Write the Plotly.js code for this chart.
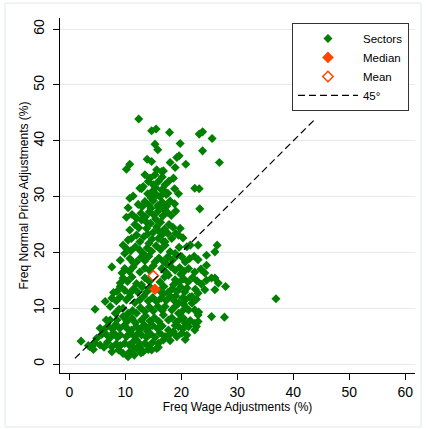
<!DOCTYPE html>
<html>
<head>
<meta charset="utf-8">
<script src="https://cdn.plot.ly/plotly-3.0.1.min.js"></script>
<style>html,body{margin:0;padding:0;background:#fff;}#chart{width:426px;height:429px;}</style>
</head>
<body>
<div id="chart"></div>
<script>
// Sector points: [wage frequency %, normal price frequency %]
const sectorPoints = [
  [7.6,2.2],[8.8,2.5],[9.6,1.9],[10.5,1.3],[10.8,2.2],[11.6,1.6],[12.0,2.8],[12.8,2.0],[13.2,2.2],[14.1,2.6],[14.7,2.5],[15.6,2.8],[15.9,3.0],
  [2.1,4.1],[3.4,3.3],[3.7,3.1],[4.3,2.6],[4.6,3.7],[5.5,3.4],[6.2,3.0],[6.8,3.9],[7.6,3.1],[8.4,3.6],[9.1,3.3],[9.9,3.7],[10.7,3.4],[11.4,4.0],[12.0,4.3],[12.7,3.5],[13.5,3.7],[14.2,3.2],[14.9,3.9],[15.9,3.7],[16.8,4.3],[18.0,4.2],
  [4.9,4.6],[5.8,5.3],[6.7,5.2],[7.3,4.7],[7.9,5.6],[8.6,4.8],[9.1,5.2],[10.2,4.9],[10.9,5.5],[11.7,4.9],[12.4,5.6],[12.9,5.2],[13.8,4.8],[14.5,5.4],[15.3,4.8],[16.2,5.5],[17.1,4.9],[18.0,5.4],[19.2,4.9],[20.1,5.5],[20.7,4.4],[21.0,5.2],
  [5.5,6.4],[6.1,6.1],[6.9,6.8],[7.7,6.3],[8.3,7.1],[9.0,6.4],[9.8,6.9],[10.5,6.2],[11.1,6.1],[12.0,6.7],[12.7,6.3],[13.4,7.0],[14.2,6.5],[14.9,6.9],[15.8,6.3],[16.6,6.8],[17.7,6.1],[18.6,5.8],[18.9,6.9],[19.5,6.7],[20.3,6.3],[21.3,6.7],[22.4,6.1],[22.7,6.7],
  [6.6,7.9],[7.3,7.9],[8.5,7.9],[9.6,8.5],[10.3,7.6],[11.2,8.2],[12.9,7.9],[13.6,8.6],[14.4,7.7],[15.2,8.3],[16.0,7.6],[16.8,8.8],[17.7,7.9],[18.3,8.3],[19.1,7.5],[19.9,8.1],[20.4,8.2],[20.7,7.3],[21.6,7.8],[22.4,7.3],[23.0,7.6],[23.0,8.8],[25.4,8.5],[27.7,8.4],
  [4.6,9.8],[7.3,10.3],[8.2,9.1],[8.9,9.8],[9.6,10.0],[10.5,9.1],[11.3,9.6],[12.0,9.1],[12.7,10.1],[13.5,9.4],[14.3,10.2],[15.0,9.5],[15.8,10.3],[16.6,9.6],[17.1,10.3],[18.3,9.7],[19.0,10.4],[19.5,9.1],[20.1,9.4],[20.9,10.0],[21.3,9.7],[22.4,9.7],[23.1,9.3],
  [6.4,11.2],[7.6,11.8],[8.4,11.3],[9.1,12.0],[10.2,11.5],[10.8,12.1],[11.7,11.0],[12.6,11.5],[13.3,12.2],[14.1,11.3],[14.9,11.9],[15.6,11.2],[16.4,11.8],[17.3,11.4],[18.1,12.1],[18.8,11.3],[19.5,10.9],[20.2,11.8],[20.7,11.5],[21.5,12.0],[21.9,10.9],[22.7,11.6],[36.9,11.7],
  [7.9,12.8],[8.5,13.0],[9.1,13.9],[9.9,13.2],[10.8,12.7],[11.5,13.5],[12.2,12.9],[13.0,13.8],[13.8,12.9],[14.6,13.6],[16.2,13.1],[16.9,13.9],[17.6,12.8],[18.4,13.5],[19.2,13.0],[19.9,13.8],[20.6,12.9],[21.9,12.1],[22.5,13.4],[23.0,12.7],[24.2,13.3],[26.0,13.3],[27.9,13.9],
  [9.1,14.5],[9.6,15.4],[10.4,14.8],[11.2,15.6],[12.0,14.4],[12.9,14.2],[13.5,15.4],[14.3,14.8],[16.2,14.7],[17.0,15.6],[17.7,15.9],[18.9,15.1],[19.6,14.6],[20.4,15.3],[21.2,14.7],[22.0,15.5],[22.8,14.9],[23.6,14.3],[24.5,15.0],[25.4,15.4],[26.6,14.5],[26.0,15.4],
  [7.6,17.4],[9.4,16.3],[9.9,17.1],[10.7,16.6],[11.4,17.4],[12.6,16.5],[13.5,17.2],[14.3,16.8],[15.0,17.6],[16.5,17.1],[17.3,16.4],[18.1,17.5],[18.9,16.8],[19.7,17.3],[20.5,16.6],[21.3,17.1],[22.4,16.5],[23.5,17.0],[24.2,16.3],[24.5,17.7],
  [9.1,18.6],[10.8,18.9],[11.4,18.2],[12.0,18.3],[12.8,19.1],[13.5,18.5],[14.2,19.3],[15.3,18.3],[16.0,19.0],[16.8,18.4],[17.6,19.2],[18.4,18.6],[19.2,19.4],[20.1,19.2],[20.7,18.3],[21.5,18.9],[22.3,19.3],[23.0,18.7],[24.5,19.5],
  [9.6,21.3],[9.9,19.8],[10.2,20.7],[11.0,20.3],[11.8,21.0],[12.6,20.4],[13.2,19.8],[13.9,20.8],[14.7,20.2],[15.5,21.2],[16.3,20.5],[17.1,21.3],[18.0,20.1],[18.9,19.8],[19.6,20.9],[21.0,21.0],[21.6,21.3],[23.0,21.3],[26.0,20.1],[26.4,21.3],
  [10.5,22.2],[11.1,22.5],[12.0,23.1],[12.6,21.9],[13.3,22.8],[14.0,23.3],[14.8,22.4],[15.9,22.5],[16.6,23.2],[17.1,21.9],[18.3,22.5],[19.0,23.4],[19.5,23.1],[20.3,22.6],
  [10.8,24.0],[11.7,25.0],[12.4,24.4],[12.9,25.8],[13.8,24.3],[14.5,25.2],[15.6,24.6],[16.3,25.4],[17.0,24.2],[17.8,25.0],[18.5,24.5],[19.8,24.3],
  [10.2,26.3],[11.2,26.8],[12.0,26.1],[12.8,27.0],[13.6,26.4],[14.3,27.3],[15.1,26.7],[15.9,27.4],[16.7,26.5],[17.5,27.2],[18.2,26.6],[19.0,27.4],
  [10.5,28.0],[12.3,28.6],[13.0,28.2],[13.5,29.1],[14.2,28.5],[15.0,29.3],[15.8,28.4],[16.6,29.0],[17.4,28.3],[18.0,29.2],[18.8,28.7],[23.3,27.8],
  [10.8,29.7],[11.4,30.1],[12.6,31.5],[12.9,31.4],[13.2,31.8],[14.0,30.5],[14.8,30.9],[15.6,30.3],[16.5,31.2],[17.3,30.4],[17.6,30.6],[18.8,31.4],[19.5,30.5],[22.4,31.5],[23.2,31.4],
  [13.5,33.9],[14.1,32.7],[14.4,33.3],[15.0,32.1],[15.3,33.9],[15.9,32.7],[16.6,33.5],[17.1,32.1],[17.8,32.8],[18.6,33.3],
  [10.2,34.9],[10.8,35.8],[15.6,34.8],[16.5,34.5],[16.8,34.6],[18.9,35.2],[18.0,36.1],[20.8,35.8],[26.8,36.1],[13.9,36.7],[14.7,36.3],
  [19.2,37.0],[19.6,37.3],[15.8,38.4],[15.3,39.4],[19.8,39.5],[23.8,38.2],[25.5,40.4],[23.2,41.2],[23.8,41.6],[17.9,41.5],[14.7,41.8],[15.5,42.1],[12.4,43.9],
  [14.6,29.8],[16.2,30.0],[15.4,31.6],[17.0,31.0],[16.0,28.0],[14.6,27.9],[15.4,26.0],[16.9,27.7],[13.8,25.4],[15.0,23.6],[16.0,23.8],[17.6,23.4],[14.2,21.6],[16.8,21.9],
  [18.6,14.2],[19.9,16.1],[21.0,13.6],[17.4,17.9],[19.0,12.2],[11.8,7.4],[12.6,3.0],[13.9,5.9],[10.0,8.2],[11.6,2.9],[16.8,12.6],[20.4,10.7]
];
const sectorWage = sectorPoints.map(p => p[0]);
const sectorPrice = sectorPoints.map(p => p[1]);
const medianWage = [15.3];
const medianPrice = [13.4];
const meanWage = [15.0];
const meanPrice = [15.8];
const diagX = [1, 44];
const diagY = [1, 44];
const tickVals = [0, 10, 20, 30, 40, 50, 60];
const tickText = ['0', '10', '20', '30', '40', '50', '60'];
const seriesNames = ['Sectors', 'Median', 'Mean', '45\u00B0'];

const green = '#008000';
const orange = '#ff4500';
const font = 'Liberation Sans, Arial, Helvetica, sans-serif';

const traces = [
  {x: sectorWage, y: sectorPrice, name: seriesNames[0], type: 'scatter', mode: 'markers',
   marker: {symbol: 'diamond', size: 7, color: green, line: {width: 0}}},
  {x: medianWage, y: medianPrice, name: seriesNames[1], type: 'scatter', mode: 'markers',
   marker: {symbol: 'diamond', size: 9, color: orange, line: {width: 0}}},
  {x: meanWage, y: meanPrice, name: seriesNames[2], type: 'scatter', mode: 'markers',
   marker: {symbol: 'diamond-open', size: 8, color: orange, line: {width: 1.5, color: orange}}},
  {x: diagX, y: diagY, name: seriesNames[3], type: 'scatter', mode: 'lines',
   line: {color: '#000', width: 1.2, dash: '7px,4px'}}
];

const layout = {
  width: 426, height: 429,
  margin: {l: 60, r: 11, t: 18, b: 56},
  paper_bgcolor: '#fff', plot_bgcolor: '#fff',
  font: {family: font, size: 12, color: '#000'},
  showlegend: true,
  legend: {x: 0.983, xanchor: 'right', y: 0.986, yanchor: 'top',
    bgcolor: '#fff', bordercolor: '#333', borderwidth: 1,
    font: {family: font, size: 11.5, color: '#000'}, itemwidth: 60, tracegroupgap: 0},
  xaxis: {range: [-1.66, 61.73], tickvals: tickVals, ticktext: tickText,
    showgrid: false, zeroline: false, showline: true, linecolor: '#000', linewidth: 1,
    ticks: 'outside', ticklen: 6, tickcolor: '#000', tickfont: {size: 14, family: font},
    ticklabelstandoff: 0,
    title: {text: 'Freq Wage Adjustments (%)', font: {size: 12, family: font}, standoff: 0}},
  yaxis: {range: [-1.61, 62.0], tickvals: tickVals, ticktext: tickText, tickangle: -90,
    showgrid: true, gridcolor: '#e3ebef', gridwidth: 1, zeroline: false,
    showline: true, linecolor: '#000', linewidth: 1,
    ticks: 'outside', ticklen: 6, tickcolor: '#000', tickfont: {size: 14, family: font},
    ticklabelstandoff: 3,
    title: {text: 'Freq Normal Price Adjustments (%)', font: {size: 12, family: font}, standoff: 0}},
  shapes: [
    {type: 'rect', xref: 'paper', yref: 'paper', x0: -0.155, x1: 1.017, y0: -0.152, y1: 1.042,
     line: {color: '#dfe8ec', width: 1}, fillcolor: 'rgba(0,0,0,0)', layer: 'below'}
  ]
};

Plotly.newPlot('chart', traces, layout, {displayModeBar: false, staticPlot: true});
</script>
</body>
</html>
